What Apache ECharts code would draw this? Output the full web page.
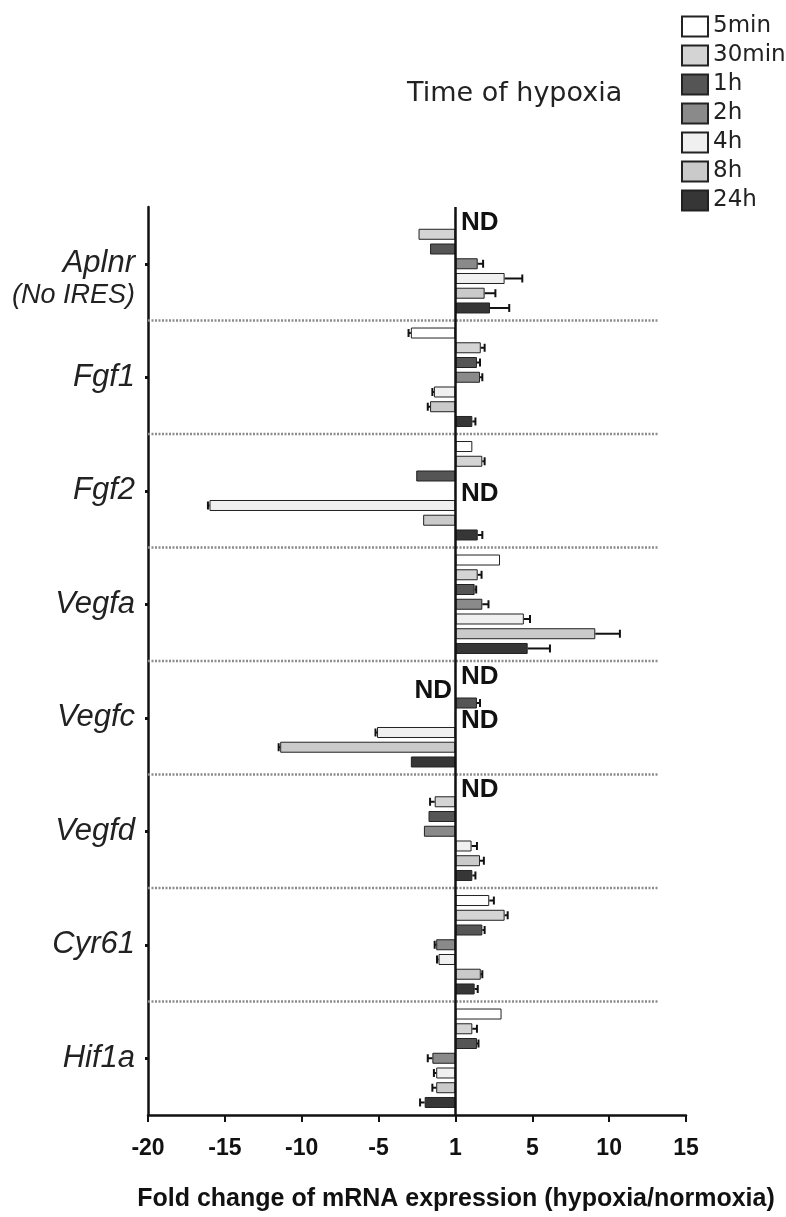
<!doctype html>
<html>
<head>
<meta charset="utf-8">
<title>Time of hypoxia</title>
<script src="https://cdn.jsdelivr.net/npm/echarts@6/dist/echarts.min.js"></script>
<style>
html,body{margin:0;padding:0;background:#fff;}
#chart{width:786px;height:1217px;}
</style>
</head>
<body>
<div id="chart"></div>
<script>
// genes top -> bottom, time points = series
var genes = ['Aplnr','Fgf1','Fgf2','Vegfa','Vegfc','Vegfd','Cyr61','Hif1a'];
var times = ['5min','30min','1h','2h','4h','8h','24h'];
var xTicks = [-20,-15,-10,-5,0,5,10,15]; // 0 is labelled "1"

// fold change (axis units), null = not detected
var v5min  = [null, -2.9, 1.1, 2.9, null, null, 2.2, 3.0];
var v30min = [-2.4, 1.65, 1.75, 1.45, null, -1.35, 3.2, 1.1];
var v1h    = [-1.65, 1.4, -2.55, 1.25, 1.4, -1.75, 1.75, 1.4];
var v2h    = [1.45, 1.6, null, 1.75, null, -2.05, -1.25, -1.5];
var v4h    = [3.2, -1.4, -16.0, 4.45, -5.1, 1.05, -1.1, -1.25];
var v8h    = [1.9, -1.65, -2.1, 9.1, -11.4, 1.6, 1.65, -1.25];
var v24h   = [2.25, 1.1, 1.45, 4.7, -2.9, 1.1, 1.25, -2.0];

// error bar lengths
var e5min  = [0, 0.15, 0, 0, 0, 0, 0.3, 0];
var e30min = [0, 0.25, 0.15, 0.25, 0, 0.3, 0.2, 0.3];
var e1h    = [0, 0.2, 0, 0.1, 0.2, 0, 0.15, 0.1];
var e2h    = [0.35, 0.15, 0, 0.4, 0, 0, 0.1, 0.3];
var e4h    = [1.15, 0.1, 0.1, 0.4, 0.1, 0.35, 0.1, 0.15];
var e8h    = [0.7, 0.15, 0, 1.6, 0.1, 0.25, 0.1, 0.25];
var e24h   = [1.25, 0.2, 0.3, 1.45, 0, 0.2, 0.2, 0.3];

// ND labels: gene, time, side
var ndMarks = [
    ['Aplnr','5min','right'],
    ['Fgf2','2h','right'],
    ['Vegfc','5min','right'],
    ['Vegfc','30min','left'],
    ['Vegfc','2h','right'],
    ['Vegfd','5min','right']
];

var values = [v5min, v30min, v1h, v2h, v4h, v8h, v24h];
var errors = [e5min, e30min, e1h, e2h, e4h, e8h, e24h];
var colors = ['#ffffff','#d4d4d4','#555555','#8a8a8a','#f0f0f0','#cacaca','#363636'];

var barW = 11;
var gapPct = 0.34;
var step = barW * (1 + gapPct);
var sepEnd = 13.2;

var myChart = echarts.init(document.getElementById('chart'));

function ndSide(g, t) {
    for (var i = 0; i < ndMarks.length; i++) {
        if (ndMarks[i][0] === g && ndMarks[i][1] === t) return ndMarks[i][2];
    }
    return null;
}

var series = [];
times.forEach(function(t, ti) {
    var data = genes.map(function(g, gi) {
        var v = values[ti][gi];
        var side = ndSide(g, t);
        if (v === null && side) {
            return {
                value: 0,
                label: {
                    show: true, position: side, distance: side === 'left' ? 3 : 5,
                    offset: [0, 3], formatter: 'ND',
                    fontSize: 26, fontWeight: 'bold', color: '#111',
                    fontFamily: 'Liberation Sans'
                }
            };
        }
        return v;
    });
    var s = {
        name: t,
        type: 'bar',
        barWidth: barW,
        barGap: (gapPct * 100) + '%',
        itemStyle: { color: colors[ti], borderColor: '#222', borderWidth: 1 },
        data: data,
        z: 3
    };
    if (ti === 0) {
        s.markLine = {
            silent: true, symbol: 'none', label: { show: false },
            lineStyle: { color: '#111', width: 2.5, type: 'solid' },
            data: [{ xAxis: 0 }]
        };
    }
    series.push(s);
});

// error bars
var errData = [];
times.forEach(function(t, ti) {
    genes.forEach(function(g, gi) {
        var v = values[ti][gi];
        var e = errors[ti][gi];
        if (v !== null && e > 0) errData.push([v, gi, e, ti]);
    });
});
series.push({
    type: 'custom',
    z: 5,
    silent: true,
    data: errData,
    renderItem: function(params, api) {
        var val = api.value(0), cat = api.value(1), err = api.value(2), ti = api.value(3);
        var sign = val < 0 ? -1 : 1;
        var p0 = api.coord([val, cat]);
        var p1 = api.coord([val + sign * err, cat]);
        var y = p0[1] + (ti - 3) * step;
        return {
            type: 'group',
            children: [
                { type: 'line', shape: { x1: p0[0], y1: y, x2: p1[0], y2: y }, style: { stroke: '#111', lineWidth: 2 } },
                { type: 'line', shape: { x1: p1[0], y1: y - 4, x2: p1[0], y2: y + 4 }, style: { stroke: '#111', lineWidth: 2 } }
            ]
        };
    }
});

// dotted separators between genes
var sepData = [];
for (var k = 1; k < genes.length; k++) sepData.push([0, k]);
series.push({
    type: 'custom',
    z: 1,
    silent: true,
    data: sepData,
    renderItem: function(params, api) {
        var idx = api.value(1);
        var c = api.coord([-20, idx]);
        var band = api.size([0, 1])[1];
        var y = c[1] - band / 2;
        var xEnd = api.coord([sepEnd, idx])[0];
        return {
            type: 'line',
            shape: { x1: c[0], y1: y, x2: xEnd, y2: y },
            style: { stroke: '#8c8c8c', lineWidth: 2.5, lineDash: [2, 1.5] }
        };
    }
});

var option = {
    backgroundColor: '#fff',
    animation: false,
    title: {
        text: 'Time of hypoxia',
        left: 402, top: 75,
        textStyle: { fontSize: 27, fontWeight: 'normal', color: '#222', fontFamily: 'DejaVu Sans' }
    },
    legend: {
        data: times,
        orient: 'vertical',
        left: 676, top: 10,
        itemWidth: 26, itemHeight: 20, itemGap: 6,
        icon: 'rect',
        textStyle: { fontSize: 23, color: '#222', fontFamily: 'DejaVu Sans' }
    },
    grid: { left: 148, right: 100, top: 207, bottom: 97 },
    xAxis: {
        type: 'value',
        min: xTicks[0], max: xTicks[xTicks.length - 1], interval: 5,
        splitLine: { show: false },
        axisLine: { show: true, lineStyle: { color: '#111', width: 2.5 } },
        axisTick: { show: true, length: 7, lineStyle: { color: '#111', width: 2 } },
        axisLabel: {
            margin: 22,
            fontSize: 23, fontWeight: 'bold', color: '#111',
            fontFamily: 'Liberation Sans',
            formatter: function(v) { return v === 0 ? '1' : String(v); }
        },
        name: 'Fold change of mRNA expression (hypoxia/normoxia)',
        nameLocation: 'middle',
        nameGap: 72,
        nameTextStyle: {
            fontSize: 25, fontWeight: 'bold', color: '#111',
            fontFamily: 'Liberation Sans', padding: [0, 0, 0, 78]
        }
    },
    yAxis: {
        type: 'category',
        data: genes,
        inverse: true,
        axisLine: { show: true, onZero: false, lineStyle: { color: '#111', width: 2.5 } },
        axisTick: { show: true, length: 3, alignWithLabel: true, lineStyle: { color: '#111', width: 3 } },
        splitLine: { show: false },
        axisLabel: {
            margin: 13,
            align: 'right',
            verticalAlign: 'middle',
            formatter: function(name) {
                if (name === 'Aplnr') return '{s|}\n{g|Aplnr}\n{n|(No IRES)}';
                return '{g|' + name + '}';
            },
            rich: {
                s: { height: 32, lineHeight: 32 },
                g: { fontSize: 31, fontStyle: 'italic', color: '#222', fontFamily: 'Liberation Sans', lineHeight: 32, align: 'right' },
                n: { fontSize: 27, fontStyle: 'italic', color: '#222', fontFamily: 'Liberation Sans', lineHeight: 32, align: 'right' }
            }
        }
    },
    series: series
};
myChart.setOption(option);
</script>
</body>
</html>
